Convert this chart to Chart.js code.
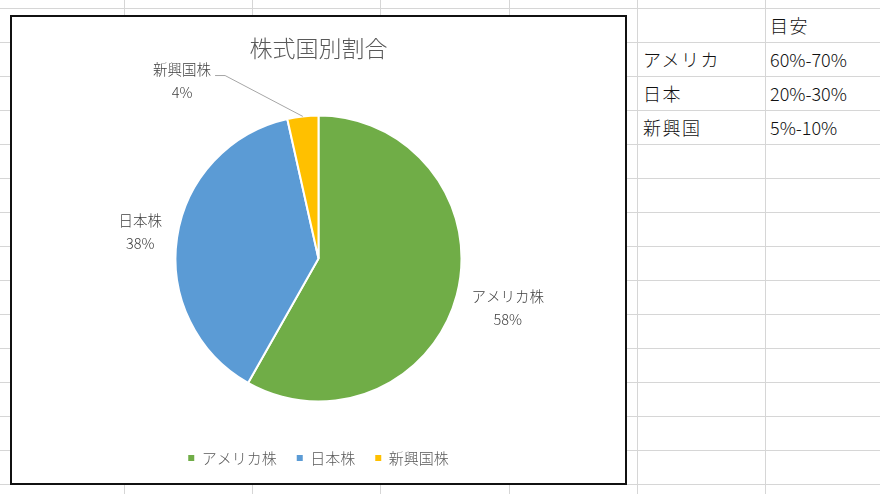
<!DOCTYPE html>
<html>
<head>
<meta charset="utf-8">
<script src="https://cdn.jsdelivr.net/npm/chart.js@4/dist/chart.umd.min.js"></script>
<style>
  body { margin: 0; background: #fff; font-family: "Noto Sans CJK JP", sans-serif; }
  #sheet { position: absolute; left: 0; top: 0; width: 880px; height: 494px; overflow: hidden; }
  .vl { position: absolute; top: 0; width: 1px; height: 494px; background: #d6d6d6; }
  .hl { position: absolute; left: 0; height: 1px; width: 880px; background: #d6d6d6; }
  .cell { position: absolute; height: 34px; line-height: 34px; font-size: 18px; font-weight: 300; color: #111; white-space: nowrap; }
  .wide { letter-spacing: 1.5px; }
  #box { position: absolute; left: 10px; top: 15px; width: 613px; height: 466px; border: 2px solid #111; background: #fff; }
</style>
</head>
<body>
<div id="sheet"></div>
<div id="box"><canvas id="pie"></canvas></div>
<script>
var categories = ["アメリカ株", "日本株", "新興国株"];
var shares = [58.2, 38.3, 3.5];
var colors = ["#70ad47", "#5b9bd5", "#ffc000"];

var tableHeader = "目安";
var tableRegions = ["アメリカ", "日本", "新興国"];
var tableTargets = ["60%-70%", "20%-30%", "5%-10%"];

// spreadsheet grid behind the chart
var sheet = document.getElementById("sheet");
for (var i = 0; i < 6; i++) {
    var v = document.createElement("div");
    v.className = "vl";
    v.style.left = Math.round(124 + 128.2 * i) + "px";
    sheet.appendChild(v);
}
for (var j = 0; j < 15; j++) {
    var h = document.createElement("div");
    h.className = "hl";
    h.style.top = (8 + 34 * j) + "px";
    sheet.appendChild(h);
}
function addCell(text, x, row, cls) {
    var c = document.createElement("div");
    c.className = "cell" + (cls ? " " + cls : "");
    c.style.left = x + "px";
    c.style.top = (8 + 34 * row) + "px";
    c.innerText = text;
    sheet.appendChild(c);
}
addCell(tableHeader, 770, 0, "wide");
for (var k = 0; k < tableRegions.length; k++) {
    addCell(tableRegions[k], 643, k + 1, "wide");
    addCell(tableTargets[k], 770, k + 1);
}

var labelFont = '300 14.5px "Noto Sans CJK JP"';
var labelGap = 13;
// the small slice label is moved aside and gets a leader line
var labelNudge = [null, null, { dx: -117, dy: -2 }];

var sliceLabels = {
    id: "sliceLabels",
    afterDatasetsDraw: function (chart) {
        var ctx = chart.ctx;
        var meta = chart.getDatasetMeta(0);
        var data = chart.data.datasets[0].data;
        var total = data.reduce(function (a, b) { return a + b; }, 0);
        ctx.save();
        ctx.font = labelFont;
        ctx.textAlign = "center";
        ctx.textBaseline = "middle";
        meta.data.forEach(function (arc, i) {
            var p = arc.getProps(["x", "y", "startAngle", "endAngle", "outerRadius"], true);
            var mid = (p.startAngle + p.endAngle) / 2;
            var line1 = chart.data.labels[i];
            var line2 = Math.round(data[i] / total * 100) + "%";
            var w = Math.max(ctx.measureText(line1).width, ctx.measureText(line2).width);
            var hgt = 36;
            var off = p.outerRadius + labelGap + (w / 2) * Math.abs(Math.cos(mid)) + (hgt / 2) * Math.abs(Math.sin(mid));
            var lx = p.x + off * Math.cos(mid);
            var ly = p.y + off * Math.sin(mid);
            var n = labelNudge[i];
            if (n) {
                lx += n.dx;
                ly += n.dy;
                ctx.strokeStyle = "#a6a6a6";
                ctx.lineWidth = 1;
                ctx.beginPath();
                ctx.moveTo(lx + w / 2 + 4, ly - 5);
                ctx.lineTo(lx + w / 2 + 14, ly - 5);
                ctx.lineTo(p.x + p.outerRadius * Math.cos(mid), p.y + p.outerRadius * Math.sin(mid));
                ctx.stroke();
            }
            ctx.fillStyle = "#404040";
            ctx.fillText(line1, lx, ly - 11.5);
            ctx.fillText(line2, lx, ly + 11.5);
        });
        ctx.restore();
    }
};

var ctx = document.getElementById("pie").getContext("2d");
var myChart = new Chart(ctx, {
    type: "pie",
    data: {
        labels: categories,
        datasets: [
            {
                data: shares,
                backgroundColor: colors,
                borderColor: "#ffffff",
                borderWidth: 2,
                radius: 143,
            },
        ],
    },
    options: {
        responsive: true,
        maintainAspectRatio: false,
        animation: false,
        layout: { padding: { bottom: 7.5 } },
        plugins: {
            title: {
                display: true,
                text: "株式国別割合",
                color: "#595959",
                font: { family: "Noto Sans CJK JP", size: 23, weight: 300 },
                padding: { top: 17, bottom: 25 },
            },
            legend: {
                position: "bottom",
                labels: {
                    boxWidth: 6,
                    boxHeight: 6,
                    padding: 20,
                    color: "#595959",
                    font: { family: "Noto Sans CJK JP", size: 15, weight: 300 },
                    generateLabels: function (chart) {
                        var items = Chart.overrides.pie.plugins.legend.labels.generateLabels(chart);
                        return items.map(function (it) {
                            it.lineWidth = 0;
                            it.strokeStyle = it.fillStyle;
                            return it;
                        });
                    },
                },
            },
            tooltip: { enabled: false },
        },
    },
    plugins: [sliceLabels],
});
</script>
</body>
</html>
